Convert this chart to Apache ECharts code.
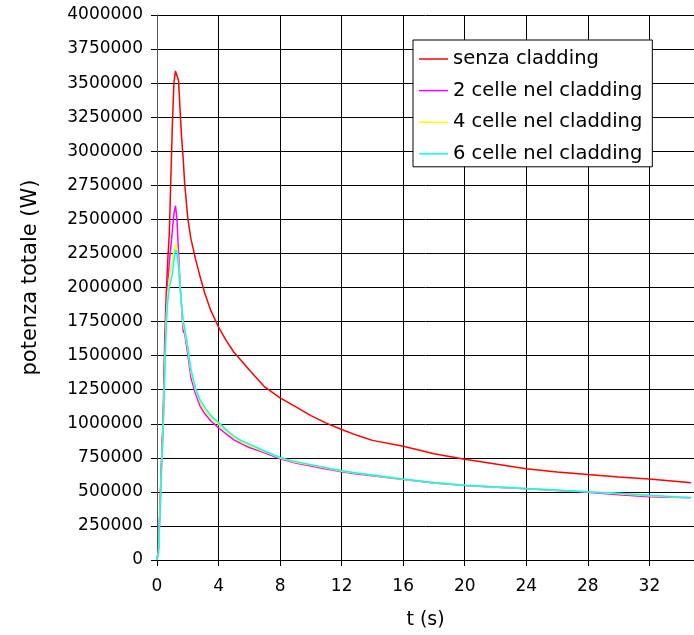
<!DOCTYPE html>
<html>
<head>
<meta charset="utf-8">
<script src="https://cdn.jsdelivr.net/npm/echarts@6/dist/echarts.min.js"></script>
<style>
html,body{margin:0;padding:0;background:#fff;}
#chart{width:694px;height:635px;}
</style>
</head>
<body>
<div id="chart"></div>
<script>
// time (s)
var tValues = [0, 0.1, 0.2, 0.3, 0.4, 0.5, 0.6, 0.7, 0.8, 0.9, 1.0, 1.1, 1.2, 1.3, 1.4, 1.5, 1.6, 1.7, 1.8, 2.0, 2.2, 2.5, 2.8, 3.1, 3.5, 4.0, 4.5, 5.0, 5.5, 6.0, 7.0, 8.0, 9.0, 10, 11, 12, 13, 14, 16, 18, 20, 22, 24, 26, 28, 30, 32, 34, 34.7];

var senzaCladding = [0, 90000, 400000, 750000, 1050000, 1600000, 1950000, 2200000, 2400000, 2800000, 3200000, 3500000, 3590000, 3590000, 3520000, 3300000, 3100000, 2950000, 2760000, 2510000, 2360000, 2210000, 2080000, 1960000, 1830000, 1710000, 1610000, 1525000, 1460000, 1395000, 1270000, 1190000, 1125000, 1060000, 1005000, 958000, 915000, 878000, 835000, 780000, 740000, 705000, 670000, 645000, 628000, 610000, 594000, 575000, 567000];

var celle2 = [0, 80000, 420000, 720000, 1000000, 1450000, 1850000, 2040000, 2180000, 2300000, 2420000, 2540000, 2600000, 2500000, 2250000, 2030000, 1850000, 1680000, 1660000, 1510000, 1340000, 1220000, 1130000, 1075000, 1020000, 970000, 925000, 882000, 852000, 826000, 786000, 743000, 712000, 690000, 668000, 648000, 632000, 618000, 590000, 566000, 546000, 534000, 523000, 510000, 497000, 478000, 464000, 459000, 457000];

var celle4 = [0, 60000, 380000, 700000, 980000, 1400000, 1780000, 1960000, 2060000, 2130000, 2200000, 2270000, 2315000, 2290000, 2180000, 2010000, 1860000, 1730000, 1680000, 1550000, 1380000, 1250000, 1160000, 1100000, 1045000, 995000, 945000, 900000, 865000, 840000, 795000, 748000, 718000, 697000, 675000, 652000, 636000, 622000, 593000, 567000, 548000, 536000, 524000, 512000, 500000, 487000, 472000, 461000, 458000];

var celle6 = [0, 50000, 350000, 680000, 960000, 1350000, 1720000, 1900000, 2000000, 2050000, 2100000, 2200000, 2278000, 2260000, 2150000, 2000000, 1870000, 1760000, 1700000, 1570000, 1400000, 1265000, 1175000, 1120000, 1060000, 1010000, 955000, 910000, 875000, 850000, 800000, 752000, 722000, 700000, 678000, 655000, 638000, 624000, 595000, 568000, 549000, 537000, 525000, 513000, 501000, 490000, 476000, 463000, 459000];

var seriesNames = ['senza cladding', '2 celle nel cladding', '4 celle nel cladding', '6 celle nel cladding'];
var seriesColors = ['#ff0000', '#ff00ff', '#ffff00', '#00ffff'];
var seriesValues = [senzaCladding, celle2, celle4, celle6];

var xTitle = 't (s)';
var yTitle = 'potenza totale (W)';

function pairs(vals) {
  return tValues.map(function (t, i) { return [t, vals[i]]; });
}

var FONT = 'DejaVu Sans';
var chart = echarts.init(document.getElementById('chart'), null, {renderer: 'canvas'});
chart.setOption({
  animation: false,
  backgroundColor: '#ffffff',
  textStyle: {fontFamily: FONT},
  grid: {left: 157, right: -3, top: 15, bottom: 74, containLabel: false},
  xAxis: {
    type: 'value', min: 0, max: 34.9, interval: 4,
    name: xTitle, nameLocation: 'middle', nameGap: 51,
    nameTextStyle: {fontFamily: FONT, fontSize: 19, color: '#000'},
    axisLine: {show: true, onZero: false, lineStyle: {color: '#000', width: 1}},
    axisTick: {show: true, length: 6, lineStyle: {color: '#000'}},
    axisLabel: {fontFamily: FONT, fontSize: 17, color: '#000', margin: 18, showMaxLabel: false,
      formatter: function (v) { return String(v); }},
    splitLine: {show: true, lineStyle: {color: '#000', width: 1}}
  },
  yAxis: {
    type: 'value', min: 0, max: 4000000, interval: 250000,
    name: yTitle, nameLocation: 'middle', nameGap: 116, nameRotate: 90,
    nameTextStyle: {fontFamily: FONT, fontSize: 21, color: '#000', padding: [0, 0, 0, 20]},
    axisLine: {show: true, lineStyle: {color: '#555', width: 1}},
    axisTick: {show: true, length: 6, lineStyle: {color: '#000'}},
    axisLabel: {fontFamily: FONT, fontSize: 17, color: '#000', margin: 14,
      formatter: function (v) { return String(v); }},
    splitLine: {show: true, lineStyle: {color: '#000', width: 1}}
  },
  legend: {
    show: true, orient: 'vertical', left: 413, top: 40,
    padding: [9, 10, 3, 6],
    icon: 'rect',
    itemWidth: 29, itemHeight: 1.5, itemGap: 11.6,
    backgroundColor: '#fff', borderColor: '#000', borderWidth: 1,
    textStyle: {fontFamily: FONT, fontSize: 19.5, color: '#000', lineHeight: 20},
    data: seriesNames
  },
  series: seriesNames.map(function (n, i) {
    return {
      name: n, type: 'line', symbol: 'none', smooth: false,
      data: pairs(seriesValues[i]),
      lineStyle: {color: seriesColors[i], width: 1.5},
      itemStyle: {color: seriesColors[i]},
      z: 2 + i
    };
  })
});
</script>
</body>
</html>
